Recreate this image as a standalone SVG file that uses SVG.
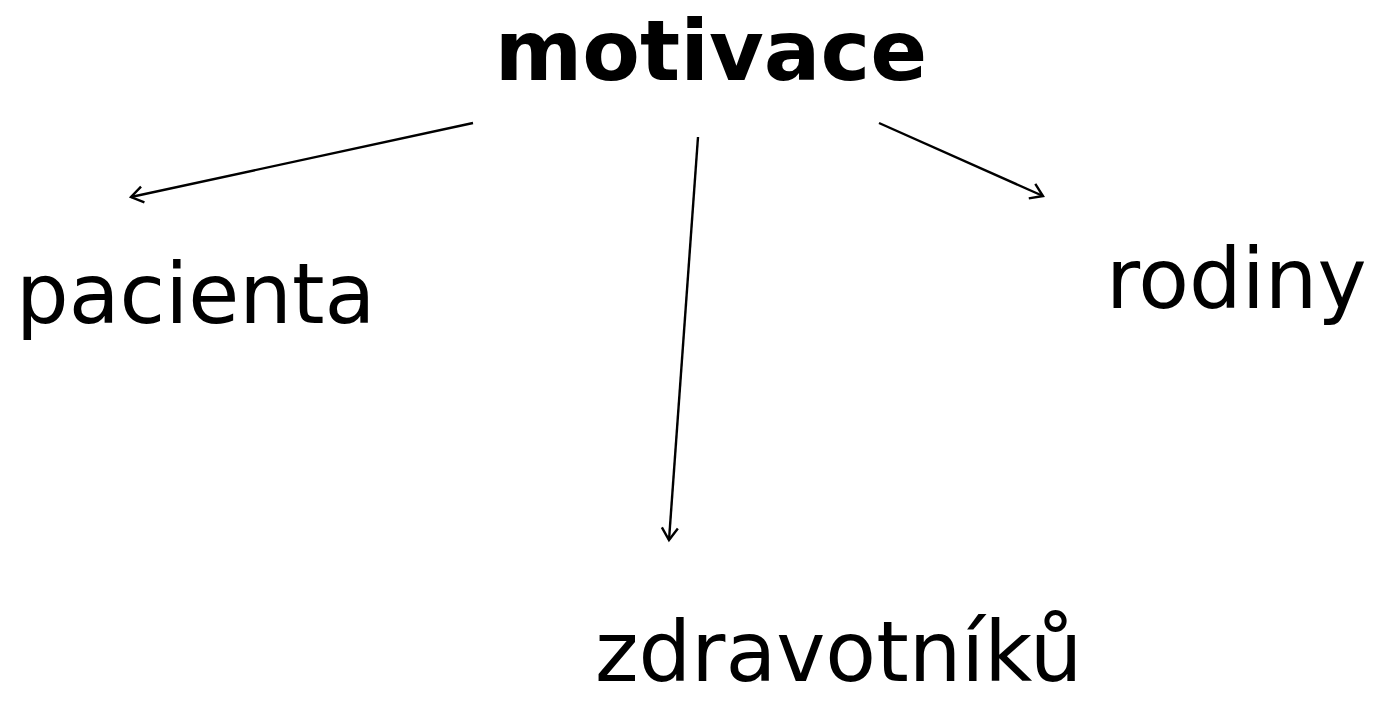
<svg xmlns="http://www.w3.org/2000/svg" width="1383" height="717" viewBox="0 0 1383 717">
<style>
text{font-family:"DejaVu Sans","Verdana",sans-serif;fill:#000}
.t{font-size:84px;font-weight:bold}
.n{font-size:83px}
.c{stroke:#000;stroke-width:2.4;fill:none}
</style>
<defs>
<marker id="ah" markerWidth="24" markerHeight="24" refX="18" refY="10" orient="auto" markerUnits="userSpaceOnUse">
<path d="M6,2 L18,10 L6,18" fill="none" stroke="#000" stroke-width="2.4"/>
</marker>
</defs>
<rect width="1383" height="717" fill="#fff"/>
<g id="motivace"><text class="t" x="711" y="80" text-anchor="middle">motivace</text></g>
<g id="pacienta"><text class="n" x="16" y="323">pacienta</text></g>
<g id="rodiny"><text class="n" x="1106" y="308">rodiny</text></g>
<g id="zdravotniku"><text class="n" x="595" y="681">zdravotníků</text></g>
<g id="connectors">
<line class="c" x1="473" y1="123" x2="131" y2="197" marker-end="url(#ah)"/>
<line class="c" x1="879" y1="123" x2="1043" y2="196" marker-end="url(#ah)"/>
<line class="c" x1="698" y1="137" x2="669" y2="540" marker-end="url(#ah)"/>
</g>
</svg>
